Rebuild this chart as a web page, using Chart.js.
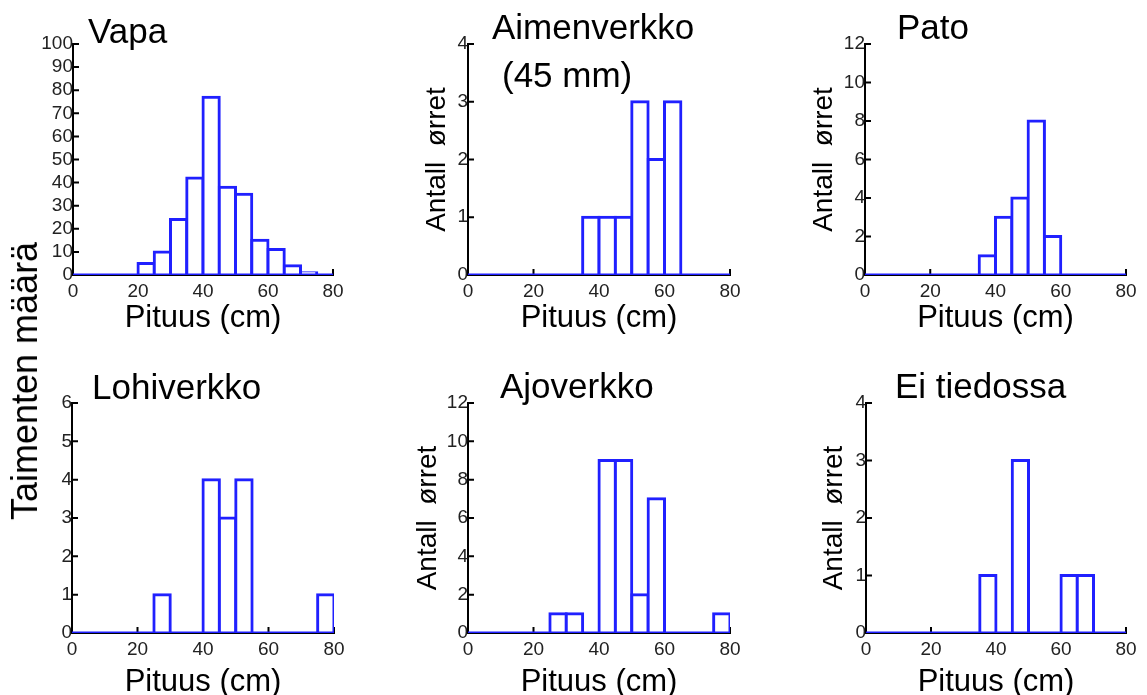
<!DOCTYPE html>
<html>
<head>
<meta charset="utf-8">
<script src="https://cdn.jsdelivr.net/npm/chart.js@4.4.1/dist/chart.umd.min.js"></script>
<style>
html, body { margin: 0; padding: 0; background: #fff; }
body { width: 1147px; height: 695px; position: relative; overflow: hidden; font-family: "Liberation Sans", Arial, sans-serif; }
canvas { position: absolute; }
.ttl { position: absolute; font-size: 35px; line-height: 1; color: #000; white-space: nowrap; }
#ylab { position: absolute; left: 25px; top: 381px; font-size: 36px; line-height: 1; color: #000;
        transform: translate(-50%, -50%) rotate(-90deg); white-space: nowrap; }
</style>
</head>
<body>
<div id="ylab">Taimenten määrä</div>
<script>
// length classes (cm), 5 cm bins from 0 to 80
const binStarts = [0, 5, 10, 15, 20, 25, 30, 35, 40, 45, 50, 55, 60, 65, 70, 75];
const binWidth = 5;
const xTicks = [0, 20, 40, 60, 80];

// counts per bin
const vapa        = [0, 0, 0, 0, 5, 10, 24, 42, 77, 38, 35, 15, 11, 4, 1, 0];
const aimenverkko = [0, 0, 0, 0, 0, 0, 0, 1, 1, 1, 3, 2, 3, 0, 0, 0];
const pato        = [0, 0, 0, 0, 0, 0, 0, 1, 3, 4, 8, 2, 0, 0, 0, 0];
const lohiverkko  = [0, 0, 0, 0, 0, 1, 0, 0, 4, 3, 4, 0, 0, 0, 0, 1];
const ajoverkko   = [0, 0, 0, 0, 0, 1, 1, 0, 9, 9, 2, 7, 0, 0, 0, 1];
const eiTiedossa  = [0, 0, 0, 0, 0, 0, 0, 1, 0, 3, 0, 0, 1, 1, 0, 0];

const yMaxes = [100, 4, 12, 6, 12, 4];
const ySteps = [10, 1, 2, 1, 2, 1];

const xLabel = 'Pituus (cm)';
const yLabel = 'Antall  ørret';

const BLUE = '#2020ff';
const FONT = '"Liberation Sans", Arial, sans-serif';
const M = { left: 100, top: 70, right: 30, bottom: 65 };

const panels = [
  { title: ['Vapa'], values: vapa, box: [73, 333, 44, 275], yTitle: false, yPad: 0, xPad: 6.5, tpos: [[88, 43]] },
  { title: ['Aimenverkko', '(45 mm)'], values: aimenverkko, box: [468, 730, 44, 275], yTitle: true, yPad: 55, xPad: 6.5, tpos: [[492, 39], [502, 87]] },
  { title: ['Pato'], values: pato, box: [865, 1126, 44, 275], yTitle: true, yPad: 45, xPad: 6.5, tpos: [[897, 39]] },
  { title: ['Lohiverkko'], values: lohiverkko, box: [72, 334, 403, 633], yTitle: false, yPad: 0, xPad: 0.5, tpos: [[92, 399]] },
  { title: ['Ajoverkko'], values: ajoverkko, box: [468, 730, 403, 633], yTitle: true, yPad: 46, xPad: 0.5, tpos: [[500, 398]] },
  { title: ['Ei tiedossa'], values: eiTiedossa, box: [866, 1126, 403, 633], yTitle: true, yPad: 54, xPad: 0.5, tpos: [[895, 398]] }
];

// small tick marks pointing into the plot
const innerTicks = {
  id: 'innerTicks',
  beforeDatasetsDraw(chart) {
    const { ctx, chartArea: a, scales: { x, y } } = chart;
    ctx.save();
    ctx.strokeStyle = '#000';
    ctx.lineWidth = 2;
    ctx.beginPath();
    x.ticks.forEach(t => {
      const px = x.getPixelForValue(t.value);
      ctx.moveTo(px, a.bottom);
      ctx.lineTo(px, a.bottom - 6);
    });
    y.ticks.forEach(t => {
      const py = y.getPixelForValue(t.value);
      ctx.moveTo(a.left, py);
      ctx.lineTo(a.left + 6, py);
    });
    ctx.stroke();
    ctx.restore();
  }
};

panels.forEach((p, i) => {
  const [L, R, T, B] = p.box;
  const cv = document.createElement('canvas');
  cv.width = (R - L) + M.left + M.right;
  cv.height = (B - T) + M.top + M.bottom;
  cv.style.left = (L - M.left) + 'px';
  cv.style.top = (T - M.top) + 'px';
  document.body.insertBefore(cv, document.getElementById('ylab'));

  p.title.forEach((txt, k) => {
    const d = document.createElement('div');
    d.className = 'ttl';
    d.textContent = txt;
    d.style.left = p.tpos[k][0] + 'px';
    d.style.top = (p.tpos[k][1] - 29.6) + 'px';
    document.body.appendChild(d);
  });

  new Chart(cv, {
    type: 'bar',
    data: {
      datasets: [
        {
          type: 'line',
          data: [{ x: xTicks[0], y: 0 }, { x: xTicks[xTicks.length - 1], y: 0 }],
          borderColor: BLUE,
          borderWidth: 3,
          pointRadius: 0,
          order: 0
        },
        {
          type: 'bar',
          data: binStarts.map((s, j) => ({ x: s + binWidth / 2, y: p.values[j] })),
          backgroundColor: '#fff',
          borderColor: BLUE,
          borderWidth: 3,
          borderSkipped: 'start',
          inflateAmount: 1.5,
          barPercentage: 1,
          categoryPercentage: 1,
          order: 1
        }
      ]
    },
    options: {
      responsive: false,
      animation: false,
      devicePixelRatio: 1,
      layout: { autoPadding: false, padding: { left: 0, top: M.top, right: M.right, bottom: 0 } },
      plugins: { legend: { display: false }, tooltip: { enabled: false } },
      scales: {
        x: {
          type: 'linear',
          min: xTicks[0],
          max: xTicks[xTicks.length - 1],
          offset: false,
          grid: { display: false, drawTicks: false },
          border: { display: true, color: '#000', width: 2 },
          ticks: { stepSize: 20, padding: 5, color: '#222', maxRotation: 0, autoSkip: false,
                   font: { size: 19, family: FONT } },
          title: { display: true, text: xLabel, color: '#000',
                   font: { size: 31, family: FONT, lineHeight: 1 },
                   padding: { top: 0, bottom: p.xPad } },
          afterFit(s) { s.height = M.bottom; }
        },
        y: {
          min: 0,
          max: yMaxes[i],
          grid: { display: false, drawTicks: false },
          border: { display: true, color: '#000', width: 2 },
          ticks: { stepSize: ySteps[i], padding: 0, color: '#222', autoSkip: false,
                   font: { size: 19, family: FONT } },
          title: { display: p.yTitle, text: yLabel, color: '#000',
                   font: { size: 28, family: FONT, lineHeight: 1 },
                   padding: { top: p.yPad, bottom: 0 } },
          afterFit(s) { s.width = M.left; }
        }
      }
    },
    plugins: [innerTicks]
  });
});
</script>
</body>
</html>
